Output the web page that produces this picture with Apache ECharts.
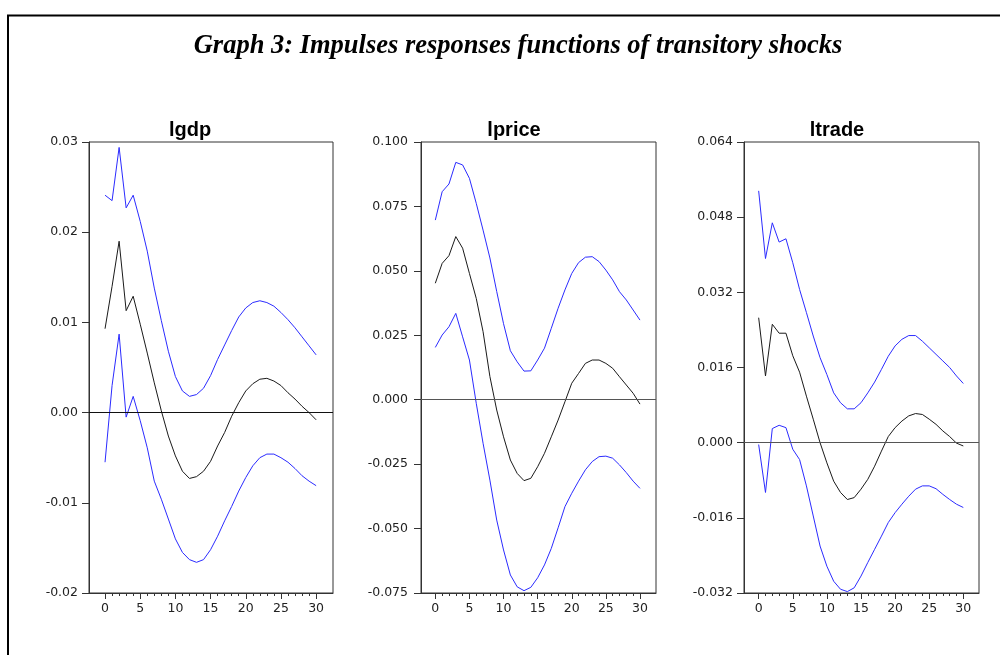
<!DOCTYPE html>
<html>
<head>
<meta charset="utf-8">
<title>Graph 3</title>
<script src="https://cdn.jsdelivr.net/npm/echarts@6/dist/echarts.min.js"></script>
<style>
  html, body { margin: 0; padding: 0; background: #fff; }
  #chart { width: 1000px; height: 655px; }
</style>
</head>
<body>
<div id="chart"></div>
<script>
// periods of the impulse responses
var periods = [0, 1, 2, 3, 4, 5, 6, 7, 8, 9, 10, 11, 12, 13, 14, 15, 16, 17, 18, 19, 20, 21, 22, 23, 24, 25, 26, 27, 28, 29, 30]
var majorTicks = [0, 5, 10, 15, 20, 25, 30]
var panelNames = ['lgdp', 'lprice', 'ltrade']

// lgdp
var gdpUpper = [0.0241, 0.0235, 0.0294, 0.0227, 0.0241, 0.0212, 0.0179, 0.0138, 0.0102, 0.0068, 0.0040, 0.0024, 0.0018, 0.0020, 0.0027, 0.0041, 0.0059, 0.0075, 0.0091, 0.0106, 0.0116, 0.0122, 0.0124, 0.0122, 0.0118, 0.0111, 0.0103, 0.0094, 0.0084, 0.0074, 0.0064]
var gdpMid = [0.0093, 0.0140, 0.0190, 0.0113, 0.0129, 0.0098, 0.0066, 0.0033, 0.0002, -0.0026, -0.0048, -0.0065, -0.0073, -0.0071, -0.0065, -0.0054, -0.0037, -0.0022, -0.0004, 0.0011, 0.0024, 0.0032, 0.0037, 0.0038, 0.0035, 0.0030, 0.0022, 0.0015, 0.0007, 0.0000, -0.0008]
var gdpLower = [-0.0055, 0.0030, 0.0087, -0.0005, 0.0018, -0.0009, -0.0039, -0.0076, -0.0096, -0.0118, -0.0140, -0.0155, -0.0163, -0.0166, -0.0163, -0.0152, -0.0137, -0.0120, -0.0104, -0.0087, -0.0072, -0.0059, -0.0050, -0.0046, -0.0046, -0.0050, -0.0055, -0.0062, -0.0070, -0.0076, -0.0081]

// lprice
var priceUpper = [0.0697, 0.0807, 0.0837, 0.0921, 0.0911, 0.0859, 0.0762, 0.0658, 0.0550, 0.0420, 0.0295, 0.0190, 0.0147, 0.0111, 0.0112, 0.0154, 0.0200, 0.0277, 0.0355, 0.0426, 0.0490, 0.0532, 0.0553, 0.0555, 0.0536, 0.0503, 0.0465, 0.0419, 0.0387, 0.0348, 0.0309]
var priceMid = [0.0452, 0.0529, 0.0559, 0.0633, 0.0588, 0.0490, 0.0393, 0.0264, 0.0090, -0.0040, -0.0144, -0.0234, -0.0286, -0.0314, -0.0305, -0.0260, -0.0208, -0.0144, -0.0079, -0.0008, 0.0064, 0.0102, 0.0141, 0.0154, 0.0154, 0.0141, 0.0122, 0.0089, 0.0057, 0.0025, -0.0017]
var priceLower = [0.0203, 0.0251, 0.0283, 0.0335, 0.0244, 0.0154, -0.0014, -0.0169, -0.0312, -0.0467, -0.0583, -0.0680, -0.0726, -0.0741, -0.0728, -0.0691, -0.0641, -0.0577, -0.0497, -0.0415, -0.0363, -0.0316, -0.0272, -0.0240, -0.0221, -0.0219, -0.0227, -0.0253, -0.0283, -0.0316, -0.0344]

// ltrade
var tradeUpper = [0.0536, 0.0392, 0.0468, 0.0427, 0.0434, 0.0383, 0.0326, 0.0277, 0.0227, 0.0181, 0.0145, 0.0106, 0.0085, 0.0072, 0.0072, 0.0085, 0.0106, 0.0129, 0.0156, 0.0184, 0.0206, 0.0220, 0.0228, 0.0228, 0.0216, 0.0202, 0.0188, 0.0174, 0.0160, 0.0142, 0.0126]
var tradeMid = [0.0266, 0.0142, 0.0252, 0.0233, 0.0233, 0.0185, 0.0150, 0.0099, 0.0050, 0.0000, -0.0043, -0.0082, -0.0106, -0.0121, -0.0117, -0.0099, -0.0078, -0.0050, -0.0018, 0.0013, 0.0032, 0.0046, 0.0057, 0.0062, 0.0060, 0.0050, 0.0039, 0.0025, 0.0013, -0.0001, -0.0007]
var tradeLower = [-0.0004, -0.0106, 0.0030, 0.0037, 0.0032, -0.0014, -0.0036, -0.0092, -0.0156, -0.0220, -0.0263, -0.0295, -0.0312, -0.0317, -0.0309, -0.0284, -0.0255, -0.0227, -0.0199, -0.0170, -0.0149, -0.0131, -0.0114, -0.0099, -0.0092, -0.0092, -0.0098, -0.0110, -0.0121, -0.0131, -0.0138]

var chart = echarts.init(document.getElementById('chart'))

var panels = [
  { upper: gdpUpper, mid: gdpMid, lower: gdpLower, min: -0.02, max: 0.03, step: 0.01, digits: 2, left: 89, width: 244, xMin: -2.28, xMax: 32.4, titleX: 185, margin: 11, zero: '#111' },
  { upper: priceUpper, mid: priceMid, lower: priceLower, min: -0.075, max: 0.1, step: 0.025, digits: 3, left: 421, width: 235, xMin: -2.1, xMax: 32.35, titleX: 509, margin: 13, zero: '#555' },
  { upper: tradeUpper, mid: tradeMid, lower: tradeLower, min: -0.032, max: 0.064, step: 0.016, digits: 3, left: 744, width: 235, xMin: -2.15, xMax: 32.3, titleX: 832, margin: 11, zero: '#555' }
]

function pairs(values) {
  return periods.map(function (t, i) { return [t, values[i]] })
}

var axisColor = '#333'
var labelFont = { fontFamily: 'DejaVu Sans', fontSize: 12.5, color: '#222' }

var titles = [{
  text: 'Graph 3: Impulses responses functions of transitory shocks',
  left: 513,
  top: 28,
  textAlign: 'center',
  textStyle: { fontFamily: 'Liberation Serif', fontStyle: 'italic', fontWeight: 'bold', fontSize: 26.5, color: '#000' }
}]
var grids = []
var xAxes = []
var yAxes = []
var series = []

panels.forEach(function (p, k) {
  titles.push({
    text: panelNames[k],
    left: p.titleX,
    top: 115,
    textAlign: 'center',
    textStyle: { fontFamily: 'Liberation Sans', fontWeight: 'bold', fontSize: 20, color: '#000' }
  })
  grids.push({
    left: p.left, top: 142, width: p.width, height: 451,
    show: true, borderColor: axisColor, borderWidth: 1, backgroundColor: 'transparent'
  })
  // labelled axis with the long ticks
  xAxes.push({
    type: 'value', gridIndex: k, position: 'bottom', min: p.xMin, max: p.xMax,
    axisLine: { show: true, onZero: false, lineStyle: { color: axisColor, width: 1 } },
    axisTick: { show: true, length: 6, customValues: majorTicks, lineStyle: { color: axisColor } },
    axisLabel: Object.assign({ show: true, margin: 9, customValues: majorTicks }, labelFont),
    splitLine: { show: false }
  })
  // short ticks at every period
  xAxes.push({
    type: 'value', gridIndex: k, position: 'bottom', offset: 0, min: p.xMin, max: p.xMax,
    axisLine: { show: false, onZero: false },
    axisTick: { show: true, length: 3, customValues: periods, lineStyle: { color: axisColor } },
    axisLabel: { show: false },
    splitLine: { show: false }
  })
  yAxes.push({
    type: 'value', gridIndex: k, min: p.min, max: p.max, interval: p.step,
    axisLine: { show: true, onZero: false, lineStyle: { color: axisColor, width: 1 } },
    axisTick: { show: true, length: 7, lineStyle: { color: axisColor } },
    axisLabel: Object.assign({
      margin: p.margin,
      formatter: function (v) { return v.toFixed(p.digits) }
    }, labelFont),
    splitLine: { show: false }
  })
  var lineBase = { type: 'line', xAxisIndex: k * 2, yAxisIndex: k, showSymbol: false, symbol: 'none', silent: true, animation: false }
  series.push(Object.assign({}, lineBase, {
    name: panelNames[k] + ' mid',
    data: pairs(p.mid),
    lineStyle: { color: '#1a1a1a', width: 1 },
    markLine: {
      silent: true, symbol: 'none', animation: false,
      label: { show: false },
      lineStyle: { color: p.zero, width: 1, type: 'solid' },
      data: [{ yAxis: 0 }]
    }
  }))
  series.push(Object.assign({}, lineBase, {
    name: panelNames[k] + ' upper',
    data: pairs(p.upper),
    lineStyle: { color: '#2b2bff', width: 1 }
  }))
  series.push(Object.assign({}, lineBase, {
    name: panelNames[k] + ' lower',
    data: pairs(p.lower),
    lineStyle: { color: '#2b2bff', width: 1 }
  }))
})

var option = {
  backgroundColor: '#fff',
  animation: false,
  title: titles,
  grid: grids,
  xAxis: xAxes,
  yAxis: yAxes,
  series: series,
  graphic: [{
    // page frame, open on the right and bottom
    type: 'polyline',
    shape: { points: [[8, 655], [8, 15.5], [1000, 15.5]] },
    style: { stroke: '#000', lineWidth: 2, fill: null },
    silent: true
  }]
}
chart.setOption(option)
</script>
</body>
</html>
